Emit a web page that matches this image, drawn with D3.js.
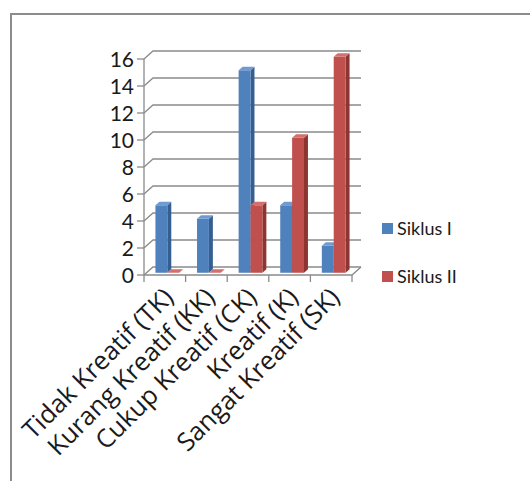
<!DOCTYPE html>
<html>
<head>
<meta charset="utf-8">
<script src="https://cdn.jsdelivr.net/npm/d3@7"></script>
<style>
  html, body { margin: 0; padding: 0; background: #fff; }
  svg { display: block; }
  text { font-family: Lato, "Open Sans", sans-serif; fill: #1a1a1a; }
  text.cat { font-family: "Open Sans", Lato, sans-serif; }
</style>
</head>
<body>
<svg id="chart" width="530" height="481"></svg>
<script>
// Kreativitas siswa per kategori, Siklus I dan Siklus II
const categories = ["Tidak Kreatif (TK)", "Kurang Kreatif (KK)", "Cukup Kreatif (CK)", "Kreatif (K)", "Sangat Kreatif (SK)"];
const seriesNames = ["Siklus I", "Siklus II"];
const siklus1 = [5, 4, 15, 5, 2];
const siklus2 = [0, 0, 5, 10, 16];
const yTicks = [0, 2, 4, 6, 8, 10, 12, 14, 16];

const svg = d3.select("#chart");

// Palette: front / side / top faces of each series
const palette = {
  "Siklus I":  { front: "#4f81bd", side: "#365f91", top: "#6f9bd2" },
  "Siklus II": { front: "#c0504d", side: "#8e3431", top: "#d2706d" }
};
const gridColor = "#8a8a8a";

// Front plane of the 3D plot box and the depth offset of its back wall
const depth = { dx: 9, dy: -8 };
const x = d3.scaleBand().domain(categories).range([144, 352]).paddingInner(0).paddingOuter(0);
const xs = d3.scaleBand().domain(seriesNames).range([0, x.bandwidth()]).paddingInner(0).paddingOuter(0.75);
const y = d3.scaleLinear().domain([0, 16]).range([275, 59]);

// Outer chart border
svg.append("rect")
  .attr("x", 11).attr("y", 14).attr("width", 530).attr("height", 480)
  .attr("fill", "none").attr("stroke", "#8c8c8c").attr("stroke-width", 2);

const xL = x.range()[0], xR = x.range()[1];
const grid = svg.append("g").attr("stroke", gridColor).attr("stroke-width", 1.3).attr("fill", "none");

// Gridlines: side-wall slant + back-wall horizontal
yTicks.forEach(v => {
  const yy = y(v);
  grid.append("path").attr("d", d3.line()([
    [xL, yy], [xL + depth.dx, yy + depth.dy], [xR + depth.dx, yy + depth.dy]
  ]));
});

// Floor front edge and right slant
grid.append("path").attr("d", d3.line()([
  [xL, y(0)], [xR, y(0)], [xR + depth.dx, y(0) + depth.dy]
]));

// Vertical axis line with outward ticks
grid.append("line").attr("x1", xL).attr("x2", xL).attr("y1", y(16)).attr("y2", y(0));
yTicks.forEach(v => {
  grid.append("line").attr("x1", xL - 7).attr("x2", xL).attr("y1", y(v)).attr("y2", y(v));
});

// Category ticks on the floor front edge
const boundaries = categories.map(c => x(c)).concat([xR]);
boundaries.forEach(bx => {
  grid.append("line").attr("x1", bx).attr("x2", bx).attr("y1", y(0)).attr("y2", y(0) + 7);
});

// Y-axis labels
svg.append("g").selectAll("text").data(yTicks).join("text")
  .attr("x", xL - 10)
  .attr("y", d => y(d))
  .attr("dy", "0.36em")
  .attr("text-anchor", "end")
  .attr("font-size", 21)
  .text(d => d);

// 3D columns placed mid-depth in the plot box
const fT = 0.28, bT = 0.72;
const fx = depth.dx * fT, fy = depth.dy * fT;
const bx = depth.dx * bT, by = depth.dy * bT;

const bars = [];
categories.forEach((c, i) => {
  bars.push({ cat: c, series: "Siklus I", value: siklus1[i] });
  bars.push({ cat: c, series: "Siklus II", value: siklus2[i] });
});

const barG = svg.append("g");
bars.forEach(b => {
  const col = palette[b.series];
  const x0 = x(b.cat) + xs(b.series);
  const x1 = x0 + xs.bandwidth();
  const yt = y(b.value), yb = y(0);
  const g = barG.append("g");
  // side face
  g.append("path").attr("fill", col.side).attr("d", d3.line()([
    [x1 + fx, yt + fy], [x1 + bx, yt + by], [x1 + bx, yb + by], [x1 + fx, yb + fy]
  ]) + "Z");
  // front face
  g.append("rect").attr("fill", col.front)
    .attr("x", x0 + fx).attr("y", yt + fy)
    .attr("width", x1 - x0).attr("height", Math.max(0, yb - yt));
  // top face
  g.append("path").attr("fill", col.top).attr("d", d3.line()([
    [x0 + fx, yt + fy], [x1 + fx, yt + fy], [x1 + bx, yt + by], [x0 + bx, yt + by]
  ]) + "Z");
});

// Rotated category labels
svg.append("g").selectAll("text").data(categories).join("text")
  .attr("class", "cat")
  .attr("font-size", 25.5)
  .attr("text-anchor", "end")
  .attr("transform", d => `translate(${x(d) + x.bandwidth() / 2 + 10},${y(0) + 24}) rotate(-45)`)
  .text(d => d);

// Legend
const legend = svg.append("g");
seriesNames.forEach((s, i) => {
  const ly = 229 + i * 48;
  legend.append("rect").attr("x", 382).attr("y", ly - 6).attr("width", 11).attr("height", 11)
    .attr("fill", palette[s].front);
  legend.append("text").attr("x", 397).attr("y", ly).attr("dy", "0.36em")
    .attr("font-size", 18).text(s);
});
</script>
</body>
</html>
